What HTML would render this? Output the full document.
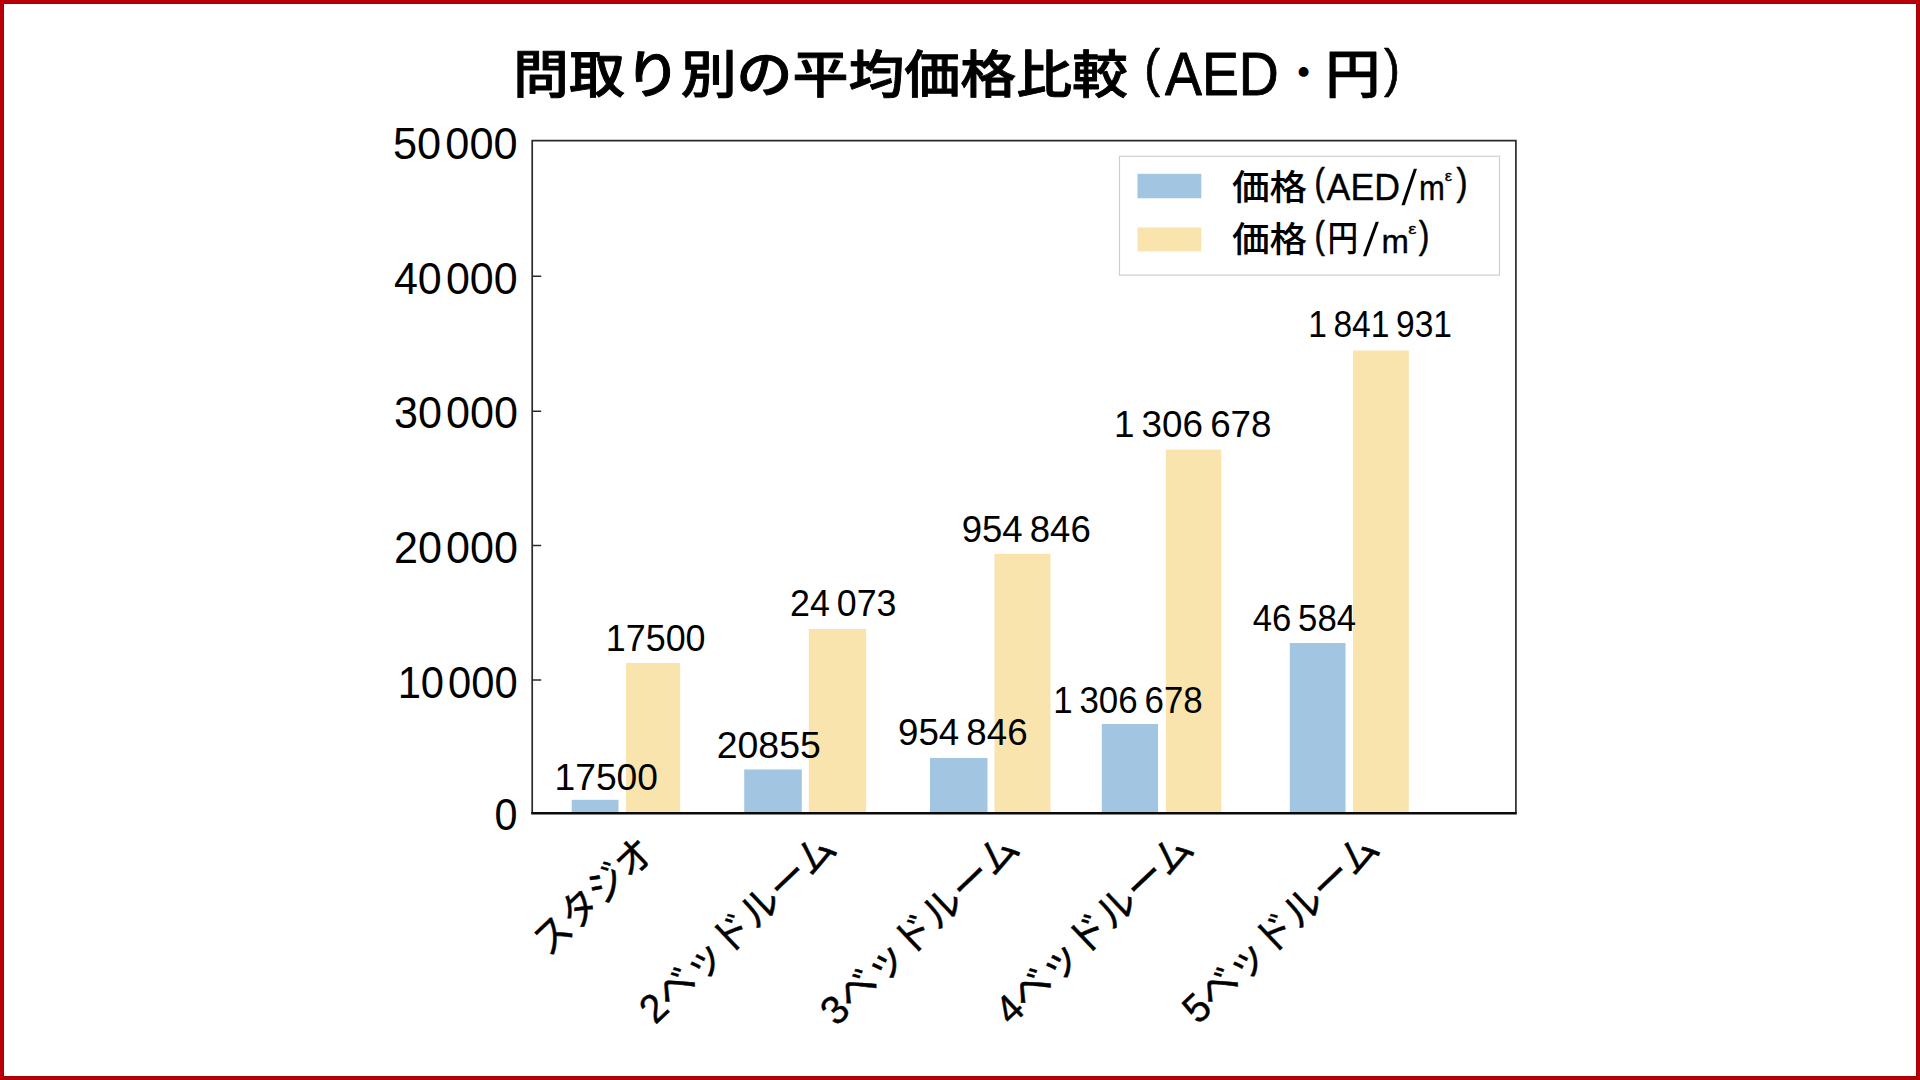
<!DOCTYPE html>
<html lang="ja">
<head>
<meta charset="utf-8">
<title>問取り別の平均価格比較 (AED・円)</title>
<style>
html,body{margin:0;padding:0;background:#fff}
body{width:1920px;height:1080px;overflow:hidden;position:relative}
#chart{position:absolute;left:0;top:0;display:block}
#chart text{font-family:"Liberation Sans", "Noto Sans CJK JP", sans-serif;fill:#000;white-space:pre;stroke-linejoin:round}
.yt{font-size:44px;word-spacing:-8px}
.dl{font-size:36.4px;word-spacing:-3px}
.xl{font-size:40px;text-anchor:end;stroke:#000;stroke-width:.45px}
#frame{position:absolute;left:0;top:0;width:1920px;height:1080px;box-sizing:border-box;border:3px solid #b70007;box-shadow:inset 0 0 0 1px #a30005;pointer-events:none}
</style>
</head>
<body>
<svg id="chart" width="1920" height="1080" viewBox="0 0 1920 1080" role="img" aria-label="問取り別の平均価格比較 (AED・円)">
<!-- chart title -->
<text id="title"><tspan id="t_k" x="512.98" y="93" font-size="51.6" textLength="615.05" lengthAdjust="spacingAndGlyphs" font-weight="500" stroke="#000" stroke-width="0.9">問取り別の平均価格比較</tspan> <tspan id="t_lp" x="1144.27" y="86" font-size="52.5" textLength="15.89" lengthAdjust="spacingAndGlyphs" stroke="#000" stroke-width="0.7">(</tspan><tspan id="t_aed" x="1165" y="94.5" font-size="61.62" textLength="113.87" lengthAdjust="spacingAndGlyphs" stroke="#000" stroke-width="0.9">AED</tspan><tspan id="t_dot" x="1284.28" y="86" font-size="38.46" textLength="38.65" lengthAdjust="spacingAndGlyphs" font-weight="700">・</tspan><tspan id="t_yen" x="1325.31" y="93" font-size="52" textLength="55.13" lengthAdjust="spacingAndGlyphs" font-weight="500" stroke="#000" stroke-width="0.8">円</tspan><tspan id="t_rp" x="1383.99" y="86" font-size="52.5" textLength="15.89" lengthAdjust="spacingAndGlyphs" stroke="#000" stroke-width="0.7">)</tspan></text>
<!-- bars: blue = 価格 (AED/m²), yellow = 価格 (円/m²) -->
<g id="bars">
<rect x="571.7" y="799.8" width="46.8" height="12.2" fill="#a2c6e1"/>
<rect x="626.0" y="663.0" width="54.2" height="149.0" fill="#f9e4ad"/>
<rect x="744.2" y="769.5" width="57.6" height="42.5" fill="#a2c6e1"/>
<rect x="808.8" y="629.0" width="57.4" height="183.0" fill="#f9e4ad"/>
<rect x="930.0" y="758.0" width="57.5" height="54.0" fill="#a2c6e1"/>
<rect x="994.5" y="553.8" width="56.0" height="258.2" fill="#f9e4ad"/>
<rect x="1101.8" y="724.0" width="56.2" height="88.0" fill="#a2c6e1"/>
<rect x="1165.8" y="449.6" width="55.5" height="362.4" fill="#f9e4ad"/>
<rect x="1289.8" y="643.0" width="55.7" height="169.0" fill="#a2c6e1"/>
<rect x="1353.0" y="350.5" width="55.8" height="461.5" fill="#f9e4ad"/>
</g>
<!-- axes frame and ticks -->
<g id="axes" fill="none">
<path d="M532.2 813.2 V140.6 H1515.9 V813.2" stroke="#2b2b2b" stroke-width="1.7"/>
<path d="M531.2 813.2 H1516.75" stroke="#0a0a0a" stroke-width="2.4"/>
<path d="M532.2 276.3 h9 M532.2 411.2 h9 M532.2 545.5 h9 M532.2 680.0 h9" stroke="#2b2b2b" stroke-width="1.5"/>
</g>
<!-- legend -->
<g id="legend">
<rect x="1119.5" y="156.3" width="380" height="118.8" fill="#fff" stroke="#cfcfcf" stroke-width="1.2"/>
<rect x="1137.5" y="173.8" width="63.8" height="24.5" fill="#a2c6e1"/>
<text id="leg1"><tspan id="l1_k" x="1231.97" y="200" font-size="35.32" textLength="75.28" lengthAdjust="spacingAndGlyphs" font-weight="500">価格</tspan> <tspan id="l1_lp" x="1314.61" y="195.4" font-size="38.72" textLength="10.37" lengthAdjust="spacingAndGlyphs" stroke="#000" stroke-width="0.6">(</tspan><tspan id="l1_aed" x="1326.58" y="200.2" font-size="36" textLength="73.37" lengthAdjust="spacingAndGlyphs" stroke="#000" stroke-width="0.35">AED</tspan><tspan id="l1_sl" x="1400.19" y="205.8" font-size="52" textLength="17.93" lengthAdjust="spacingAndGlyphs" stroke="#fff" stroke-width="1.3">/</tspan><tspan id="l1_m" x="1418.92" y="200.2" font-size="34.2" textLength="25.85" lengthAdjust="spacingAndGlyphs" stroke="#000" stroke-width="0.35">m</tspan><tspan id="l1_e" x="1444.77" y="181.4" font-size="15.54" textLength="7.38" lengthAdjust="spacingAndGlyphs" stroke="#000" stroke-width="0.3">ε</tspan><tspan id="l1_rp" x="1456.53" y="195.4" font-size="38.72" textLength="10.99" lengthAdjust="spacingAndGlyphs" stroke="#000" stroke-width="0.6">)</tspan></text>
<rect x="1137.5" y="227.4" width="63.8" height="24" fill="#f9e4ad"/>
<text id="leg2"><tspan id="l2_k" x="1231.96" y="252.4" font-size="35.64" textLength="75.3" lengthAdjust="spacingAndGlyphs" font-weight="500">価格</tspan> <tspan id="l2_lp" x="1314.61" y="248.2" font-size="37.95" textLength="10.37" lengthAdjust="spacingAndGlyphs" stroke="#000" stroke-width="0.6">(</tspan><tspan id="l2_yen" x="1327.38" y="251" font-size="34.85" textLength="30.63" lengthAdjust="spacingAndGlyphs" font-weight="500">円</tspan><tspan id="l2_sl" x="1361.87" y="257.3" font-size="50.5" textLength="18.36" lengthAdjust="spacingAndGlyphs" stroke="#fff" stroke-width="1.3">/</tspan><tspan id="l2_m" x="1381.44" y="252.5" font-size="32.94" textLength="27.39" lengthAdjust="spacingAndGlyphs" stroke="#000" stroke-width="0.35">m</tspan><tspan id="l2_e" x="1408.32" y="234.4" font-size="15.54" textLength="8.19" lengthAdjust="spacingAndGlyphs" stroke="#000" stroke-width="0.3">ε</tspan><tspan id="l2_rp" x="1418.72" y="248.2" font-size="37.95" textLength="10.56" lengthAdjust="spacingAndGlyphs" stroke="#000" stroke-width="0.6">)</tspan></text>
</g>
<!-- y axis tick labels -->
<g id="yticks">
<text id="yt0" class="yt" x="392.96" y="158.9" textLength="124.63" lengthAdjust="spacingAndGlyphs">50 000</text>
<text id="yt1" class="yt" x="393.98" y="293.9" textLength="123.64" lengthAdjust="spacingAndGlyphs">40 000</text>
<text id="yt2" class="yt" x="393.98" y="427.9" textLength="124.03" lengthAdjust="spacingAndGlyphs">30 000</text>
<text id="yt3" class="yt" x="393.98" y="562.9" textLength="124.03" lengthAdjust="spacingAndGlyphs">20 000</text>
<text id="yt4" class="yt" x="397.63" y="697.5" textLength="120.01" lengthAdjust="spacingAndGlyphs">10 000</text>
<text id="yt5" class="yt" x="494.4" y="830.2" textLength="22.97" lengthAdjust="spacingAndGlyphs">0</text>
</g>
<!-- x axis category labels -->
<g id="xticks">
<text id="xl0" class="xl" textLength="149.4" lengthAdjust="spacingAndGlyphs" transform="translate(657.0 855.0) rotate(-43.5)">スタジオ</text>
<text id="xl1" class="xl" textLength="253.21" lengthAdjust="spacingAndGlyphs" transform="translate(839.0 851.0) rotate(-43.5)">2ベッドルーム</text>
<text id="xl2" class="xl" textLength="255.92" lengthAdjust="spacingAndGlyphs" transform="translate(1022.0 851.0) rotate(-43.5)">3ベッドルーム</text>
<text id="xl3" class="xl" textLength="255.1" lengthAdjust="spacingAndGlyphs" transform="translate(1196.0 851.0) rotate(-43.5)">4ベッドルーム</text>
<text id="xl4" class="xl" textLength="253.26" lengthAdjust="spacingAndGlyphs" transform="translate(1382.0 851.0) rotate(-43.5)">5ベッドルーム</text>
</g>
<!-- value labels above bars -->
<g id="values">
<text id="dl0" class="dl" x="554.51" y="790" textLength="103.5" lengthAdjust="spacingAndGlyphs">17500</text>
<text id="dl1" class="dl" x="605.78" y="651.25" textLength="99.78" lengthAdjust="spacingAndGlyphs">17500</text>
<text id="dl2" class="dl" x="716.73" y="758" textLength="104.03" lengthAdjust="spacingAndGlyphs">20855</text>
<text id="dl3" class="dl" x="790" y="616.25" textLength="106.5" lengthAdjust="spacingAndGlyphs">24 073</text>
<text id="dl4" class="dl" x="898" y="745" textLength="129.56" lengthAdjust="spacingAndGlyphs">954 846</text>
<text id="dl5" class="dl" x="961.73" y="542" textLength="129.03" lengthAdjust="spacingAndGlyphs">954 846</text>
<text id="dl6" class="dl" x="1053.23" y="712.5" textLength="149.57" lengthAdjust="spacingAndGlyphs">1 306 678</text>
<text id="dl7" class="dl" x="1113.98" y="437" textLength="157.58" lengthAdjust="spacingAndGlyphs">1 306 678</text>
<text id="dl8" class="dl" x="1252.77" y="631.25" textLength="103.2" lengthAdjust="spacingAndGlyphs">46 584</text>
<text id="dl9" class="dl" x="1308.2" y="337" textLength="143.79" lengthAdjust="spacingAndGlyphs">1 841 931</text>
</g>
</svg>
<div id="frame"></div>
</body>
</html>
